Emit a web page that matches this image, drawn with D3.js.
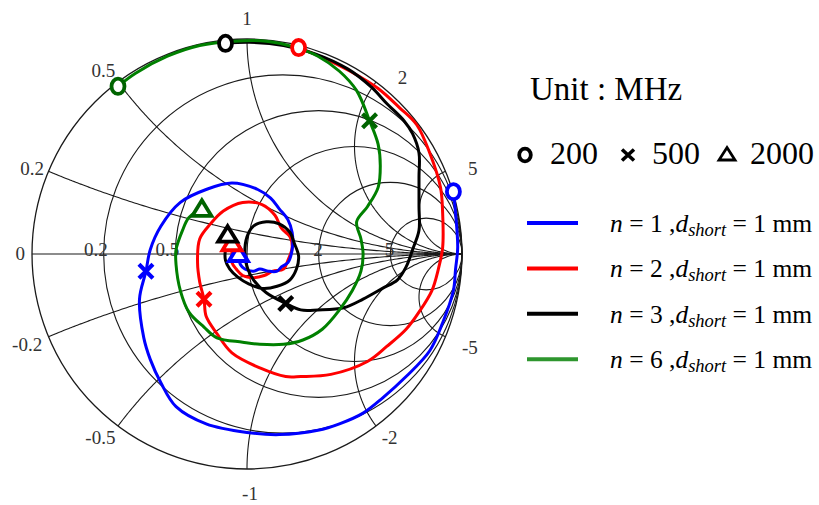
<!DOCTYPE html>
<html>
<head>
<meta charset="utf-8">
<script src="https://cdn.jsdelivr.net/npm/d3@7"></script>
<style>
  html, body { margin: 0; padding: 0; background: #fff; }
  svg { display: block; }
  text { font-family: "Liberation Serif", "Times New Roman", serif; }
</style>
</head>
<body>
<svg id="chart" width="819" height="505"></svg>
<script>
// ---- Smith chart grid values ----
const resistanceGrid = [0.2, 0.5, 1, 2, 5];
const resistanceLabels = ["0.2", "0.5", "2", "5"];
const reactanceGrid = [0.2, 0.5, 1, 2, 5];
const reactanceLabels = ["0", "0.2", "0.5", "1", "2", "5", "-0.2", "-0.5", "-1", "-2", "-5"];

// ---- measured reflection coefficient (Re, Im), 200 MHz -> 2000 MHz ----
const seriesN = ["1", "2", "3", "6"];

const gammaN1 = [
  [0.96, 0.29], [0.97, 0.19], [0.98, 0.03], [0.97, -0.07], [0.96, -0.17], [0.91, -0.32],
  [0.85, -0.45], [0.74, -0.57], [0.63, -0.67], [0.54, -0.74], [0.43, -0.79], [0.33, -0.82],
  [0.15, -0.84], [0.00, -0.83], [-0.19, -0.79], [-0.33, -0.71], [-0.40, -0.60], [-0.45, -0.49],
  [-0.48, -0.39], [-0.50, -0.21], [-0.47, -0.08], [-0.45, 0.02], [-0.40, 0.13], [-0.31, 0.24],
  [-0.19, 0.30], [-0.07, 0.33], [0.05, 0.30], [0.11, 0.26], [0.15, 0.21], [0.19, 0.16],
  [0.21, 0.10], [0.21, 0.02], [0.19, -0.04], [0.16, -0.06], [0.14, -0.08], [0.10, -0.08],
  [0.06, -0.07], [0.03, -0.08], [-0.01, -0.07], [-0.03, -0.05], [-0.04, 0.00]
];

const gammaN2 = [
  [0.24, 0.96], [0.36, 0.91], [0.48, 0.85], [0.61, 0.77], [0.71, 0.68], [0.79, 0.60],
  [0.85, 0.47], [0.90, 0.31], [0.91, 0.19], [0.91, 0.03], [0.89, -0.07], [0.86, -0.17],
  [0.80, -0.27], [0.74, -0.35], [0.65, -0.43], [0.56, -0.50], [0.39, -0.56], [0.25, -0.57],
  [0.18, -0.57], [0.06, -0.53], [-0.07, -0.46], [-0.14, -0.37], [-0.19, -0.29], [-0.20, -0.21],
  [-0.22, -0.13], [-0.23, -0.04], [-0.22, 0.07], [-0.17, 0.14], [-0.11, 0.20], [-0.02, 0.24],
  [0.07, 0.23], [0.13, 0.18], [0.16, 0.12], [0.20, 0.08], [0.21, 0.03], [0.19, -0.03],
  [0.17, -0.07], [0.12, -0.08], [0.08, -0.10], [0.03, -0.11], [-0.02, -0.10], [-0.05, -0.07],
  [-0.07, -0.04], [-0.07, 0.00], [-0.07, 0.05]
];

const gammaN3 = [
  [-0.10, 0.98], [0.01, 0.985], [0.17, 0.97], [0.32, 0.93], [0.47, 0.86], [0.58, 0.775],
  [0.65, 0.70], [0.73, 0.62], [0.77, 0.56], [0.80, 0.47], [0.80, 0.36], [0.80, 0.22],
  [0.80, 0.11], [0.77, 0.02], [0.74, -0.06], [0.70, -0.12], [0.63, -0.16], [0.54, -0.21],
  [0.45, -0.25], [0.33, -0.26], [0.25, -0.26], [0.18, -0.23], [0.09, -0.18], [0.03, -0.12],
  [0.00, -0.06], [-0.01, 0.00], [0.00, 0.08], [0.03, 0.13], [0.09, 0.15], [0.15, 0.14],
  [0.20, 0.10], [0.22, 0.05], [0.24, -0.01], [0.23, -0.07], [0.20, -0.12], [0.14, -0.15],
  [0.07, -0.16], [0.01, -0.14], [-0.04, -0.11], [-0.08, -0.07], [-0.10, -0.03], [-0.10, 0.02],
  [-0.09, 0.05], [-0.09, 0.09]
];

const gammaN6 = [
  [-0.60, 0.78], [-0.52, 0.84], [-0.37, 0.92], [-0.22, 0.97], [-0.06, 0.99], [0.09, 0.99],
  [0.23, 0.96], [0.33, 0.92], [0.43, 0.85], [0.51, 0.76], [0.57, 0.62], [0.61, 0.51],
  [0.62, 0.41], [0.61, 0.31], [0.56, 0.22], [0.51, 0.15], [0.53, 0.07], [0.54, 0.00],
  [0.53, -0.08], [0.49, -0.17], [0.43, -0.26], [0.35, -0.35], [0.26, -0.40], [0.17, -0.42],
  [0.06, -0.42], [-0.02, -0.41], [-0.14, -0.39], [-0.20, -0.34], [-0.27, -0.27], [-0.31, -0.17],
  [-0.33, -0.05], [-0.33, 0.02], [-0.30, 0.11], [-0.27, 0.17], [-0.21, 0.21]
];

// frequency markers, one point per series (n = 1, 2, 3, 6)
const freqLabels = ["200", "500", "2000"];
const at200 = [[0.96, 0.29], [0.24, 0.96], [-0.10, 0.98], [-0.60, 0.78]];
const at500 = [[-0.47, -0.08], [-0.20, -0.21], [0.18, -0.23], [0.57, 0.62]];
const at2000 = [[-0.04, 0.00], [-0.07, 0.05], [-0.09, 0.09], [-0.21, 0.21]];

// ---- styling ----
const traceColors = ["#0000ff", "#ff0000", "#000000", "#008000"];
const markerColors = ["#0000ff", "#ff0000", "#000000", "#006400"];
const legendColors = ["#0000ff", "#ff0000", "#000000", "#2e962e"];
const gridColor = "#1a1a1a";
const labelColor = "#333";
// small hand nudges (px) for rim labels so they clear the arcs
const rimNudge = { "0.2": [3, 5], "0.5": [-2, 5], "1": [0, 0], "2": [14, 12], "5": [8, 5],
  "-0.2": [-2, 0], "-0.5": [-5, -5], "-1": [3, 3], "-2": [1, -5], "-5": [5, 3] };

const traces = [gammaN1, gammaN2, gammaN3, gammaN6];

const svg = d3.select("#chart");
const cx = 247, cy = 254, R = 215;

const sx = d3.scaleLinear().domain([-1, 1]).range([cx - R, cx + R]);
const sy = d3.scaleLinear().domain([-1, 1]).range([cy + R, cy - R]);

// normalized impedance r + jx -> reflection coefficient
function gamma(r, x) {
  const d = (r + 1) * (r + 1) + x * x;
  return [(r * r + x * x - 1) / d, (2 * x) / d];
}

const line = d3.line().x(d => sx(d[0])).y(d => sy(d[1]));
const smooth = d3.line().x(d => sx(d[0])).y(d => sy(d[1])).curve(d3.curveCatmullRom.alpha(0.5));

const grid = svg.append("g").attr("fill", "none").attr("stroke", gridColor).attr("stroke-width", 1.1);

// outer circle (r = 0)
grid.append("circle").attr("cx", sx(0)).attr("cy", sy(0)).attr("r", sx(1) - sx(0)).attr("stroke-width", 1.3);

// real axis
grid.append("path").attr("d", line([[-1, 0], [1, 0]]));

// constant resistance circles
resistanceGrid.forEach(r => {
  const c = r / (1 + r), rad = 1 / (1 + r);
  grid.append("circle").attr("cx", sx(c)).attr("cy", sy(0)).attr("r", sx(c + rad) - sx(c));
});

// constant reactance arcs (positive and negative)
function reactanceArc(x) {
  const pts = [gamma(0, x)];
  for (let k = 0; k <= 400; k++) pts.push(gamma(Math.pow(10, -3 + 7 * k / 400), x));
  pts.push([1, 0]);
  return pts;
}
reactanceGrid.forEach(x => {
  grid.append("path").attr("d", line(reactanceArc(x)));
  grid.append("path").attr("d", line(reactanceArc(-x)));
});

// reactance labels around the rim
const labels = svg.append("g").attr("fill", labelColor).attr("font-size", 19);
reactanceLabels.forEach(t => {
  const x = +t;
  const g = gamma(0, x);
  if (x === 0) {
    labels.append("text").attr("x", sx(-1) - 7).attr("y", sy(0)).attr("dy", "0.33em")
      .attr("text-anchor", "end").text(t);
  } else {
    const k = (R + 21) / R;
    const n = rimNudge[t] || [0, 0];
    labels.append("text").attr("x", sx(g[0] * k) + n[0]).attr("y", sy(g[1] * k) + n[1]).attr("dy", "0.35em")
      .attr("text-anchor", "middle").text(t);
  }
});

// resistance labels along the real axis
resistanceLabels.forEach(t => {
  const r = +t;
  const left = (r - 1) / (r + 1);
  labels.append("text").attr("x", sx(left) + 4).attr("y", sy(0) + 2)
    .attr("text-anchor", "end").text(t);
});

// traces: n = 2 first, then n = 1, n = 3, n = 6 on top
const drawOrder = [1, 0, 2, 3];
const traceG = svg.append("g").attr("fill", "none").attr("stroke-width", 3)
  .attr("stroke-linejoin", "round").attr("stroke-linecap", "round");
drawOrder.forEach(i => {
  traceG.append("path").attr("d", smooth(traces[i])).attr("stroke", traceColors[i]);
});

// marker shapes
const tri = "M0,-8.5L9.5,7L-9.5,7Z";
const cross = "M-7,-7L7,7M7,-7L-7,7";

const mk = svg.append("g");
at200.forEach((p, i) => {
  mk.append("ellipse").attr("cx", sx(p[0])).attr("cy", sy(p[1])).attr("rx", 6.5).attr("ry", 7.6)
    .attr("fill", "#fff").attr("stroke", markerColors[i]).attr("stroke-width", 3.8);
});
at500.forEach((p, i) => {
  mk.append("path").attr("d", cross).attr("transform", `translate(${sx(p[0])},${sy(p[1])})`)
    .attr("fill", "none").attr("stroke", markerColors[i]).attr("stroke-width", 4.2);
});
at2000.forEach((p, i) => {
  mk.append("path").attr("d", tri).attr("transform", `translate(${sx(p[0])},${sy(p[1])})`)
    .attr("fill", "#fff").attr("stroke", markerColors[i]).attr("stroke-width", 3.8)
    .attr("stroke-linejoin", "miter");
});

// ---- legend ----
const lg = svg.append("g");
lg.append("text").attr("x", 530).attr("y", 100).attr("font-size", 33).attr("fill", "#000")
  .text("Unit : MHz");

const symRow = 164;
const symX = [525, 628, 727];
const symTextX = [550, 652, 750];
lg.append("ellipse").attr("cx", symX[0]).attr("cy", symRow - 9).attr("rx", 5.8).attr("ry", 6.3)
  .attr("fill", "none").attr("stroke", "#000").attr("stroke-width", 3.8);
lg.append("path").attr("d", "M-6,-5.5L6,5.5M6,-5.5L-6,5.5").attr("transform", `translate(${symX[1]},${symRow - 9})`)
  .attr("fill", "none").attr("stroke", "#000").attr("stroke-width", 3.6);
lg.append("path").attr("d", "M0,-6.5L8,6L-8,6Z").attr("transform", `translate(${symX[2]},${symRow - 10})`)
  .attr("fill", "none").attr("stroke", "#000").attr("stroke-width", 2.8);
freqLabels.forEach((t, i) => {
  lg.append("text").attr("x", symTextX[i]).attr("y", symRow).attr("font-size", 32).attr("fill", "#000").text(t);
});

const rowY0 = 223, rowStep = 45.4;
seriesN.forEach((n, i) => {
  const y = rowY0 + i * rowStep;
  lg.append("line").attr("x1", 527).attr("x2", 578).attr("y1", y).attr("y2", y)
    .attr("stroke", legendColors[i]).attr("stroke-width", 4);
  const t = lg.append("text").attr("x", 610).attr("y", y + 9).attr("font-size", 25.5).attr("fill", "#000");
  t.append("tspan").attr("font-style", "italic").text("n");
  t.append("tspan").text(` = ${n} ,`);
  t.append("tspan").attr("font-style", "italic").text("d");
  t.append("tspan").attr("font-style", "italic").attr("font-size", 18.5).attr("dy", 4).text("short");
  t.append("tspan").attr("dy", -4).text(" = 1 mm");
});
</script>
</body>
</html>
